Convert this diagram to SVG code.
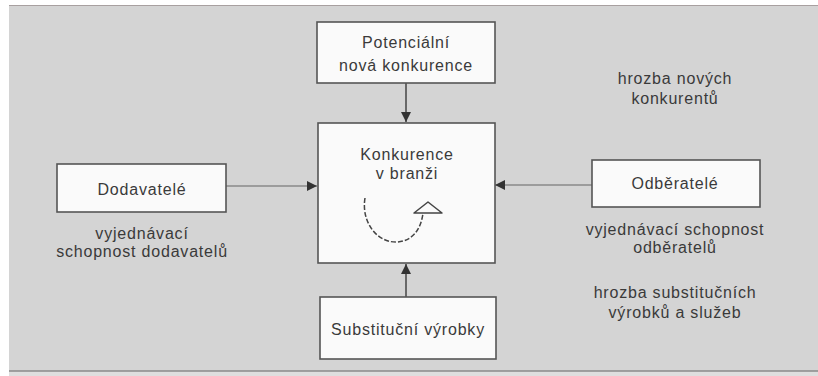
<svg xmlns="http://www.w3.org/2000/svg" width="818" height="376" viewBox="0 0 818 376">
<defs>
<marker id="ah" viewBox="0 0 10 10" refX="10" refY="5" markerWidth="10" markerHeight="10" markerUnits="userSpaceOnUse" orient="auto">
<path d="M0,0 L10,5 L0,10 z" fill="#333"/>
</marker>
</defs>
<style>
.box{fill:#fafafa;stroke:#555;stroke-width:1.6}
.t{font-family:"Liberation Sans",Arial,sans-serif;font-size:16px;letter-spacing:0.8px;fill:#3a3a3a;text-anchor:middle}
.c{stroke:#444;stroke-width:1.5;fill:none}
.ch{stroke:#8a8a8a;stroke-width:1.5;fill:none}
</style>
<rect x="0" y="0" width="818" height="376" fill="#ffffff"/>
<rect x="9" y="5" width="809" height="366" fill="#d4d4d4"/>
<line x1="9" y1="5.5" x2="818" y2="5.5" stroke="#a8a0a0" stroke-width="1"/>
<rect x="9" y="371" width="809" height="5" fill="#dedede"/>
<line x1="9" y1="371" x2="818" y2="371" stroke="#8a8a8a" stroke-width="1.5"/>

<g id="connectors">
<line class="c" x1="406" y1="83" x2="406" y2="122" marker-end="url(#ah)"/>
<line class="c" x1="406" y1="297" x2="406" y2="264" marker-end="url(#ah)"/>
<line class="ch" x1="226" y1="186" x2="317" y2="186" marker-end="url(#ah)"/>
<line class="ch" x1="592" y1="185" x2="495" y2="185" marker-end="url(#ah)"/>
</g>

<g id="potencialni">
<rect class="box" x="317" y="22" width="178" height="61"/>
<text class="t" x="406" y="48">Potenciální</text>
<text class="t" x="406" y="71">nová konkurence</text>
</g>

<g id="konkurence">
<rect class="box" x="318" y="123" width="177" height="140"/>
<text class="t" x="407" y="160">Konkurence</text>
<text class="t" x="407" y="179">v branži</text>
<path d="M365,198 C361,222 377,243 397,242 C413,241 421,229 423,213" fill="none" stroke="#444" stroke-width="1.5" stroke-dasharray="5,2"/>
<path d="M414,213 L442,213 L428,202 z" fill="#fafafa" stroke="#444" stroke-width="1.5" stroke-linejoin="round"/>
</g>

<g id="dodavatele">
<rect class="box" x="57" y="164" width="169" height="48"/>
<text class="t" x="142" y="195">Dodavatelé</text>
</g>

<g id="odberatele">
<rect class="box" x="592" y="160" width="168" height="47"/>
<text class="t" x="675" y="189">Odběratelé</text>
</g>

<g id="substitucni">
<rect class="box" x="320" y="297" width="176" height="62"/>
<text class="t" x="408" y="335">Substituční výrobky</text>
</g>

<g id="labels">
<text class="t" x="675" y="84">hrozba nových</text>
<text class="t" x="675" y="104">konkurentů</text>
<text class="t" x="142" y="239">vyjednávací</text>
<text class="t" x="142" y="257">schopnost dodavatelů</text>
<text class="t" x="675" y="235">vyjednávací schopnost</text>
<text class="t" x="675" y="253">odběratelů</text>
<text class="t" x="675" y="298">hrozba substitučních</text>
<text class="t" x="675" y="318">výrobků a služeb</text>
</g>
</svg>
